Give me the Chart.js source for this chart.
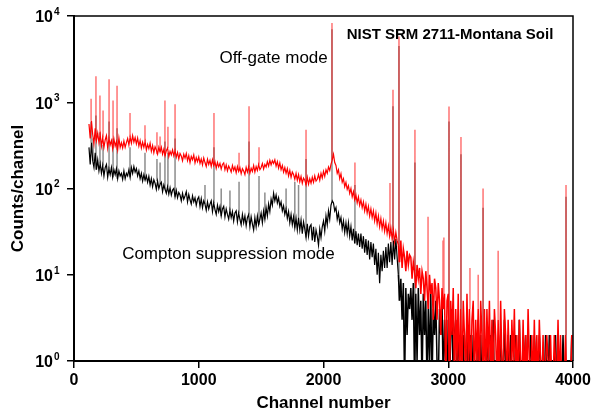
<!DOCTYPE html>
<html>
<head>
<meta charset="utf-8">
<script src="https://cdn.jsdelivr.net/npm/chart.js@4"></script>
<style>
  html, body { margin: 0; padding: 0; background: #fff; }
  #wrap { width: 595px; height: 414px; }
</style>
</head>
<body>
<div id="wrap"><canvas id="spectrum" width="595" height="414"></canvas></div>
<script>
// channel of the first value and spacing between values
const startChannel = 100;
const channelStep = 10;

// off-gate mode counts, one row per 100 channels (100, 200, ... 3900)
const offGate = [
  null, null, 560, 380, 610, 420, 330, 500, 360, 440,
  340, 420, 310, 390, 300, 365, 410, 295, 380, 320,
  360, 290, 375, 310, 350, 280, 385, 300, 340, 295,
  355, 300, 340, 380, 320, 395, 335, 410, 345, 390,
  330, 385, 310, 360, 295, 345, 300, 350, 280, 325,
  290, 335, 270, 315, 260, 305, 280, 250, 300, 265,
  300, 250, 285, 240, 275, 295, 235, 270, 245, 280,
  240, 275, 230, 262, 220, 255, 238, 210, 250, 225,
  255, 210, 240, 200, 235, 215, 245, 198, 228, 205,
  232, 195, 220, 188, 226, 200, 180, 218, 190, 212,
  180, 215, 185, 205, 172, 200, 178, 195, 168, 190,
  198, 165, 188, 160, 182, 170, 155, 185, 162, 178,
  152, 180, 158, 175, 148, 170, 160, 145, 176, 155,
  178, 150, 172, 158, 185, 155, 180, 162, 190, 165,
  175, 195, 168, 190, 178, 205, 182, 212, 188, 210,
  195, 215, 182, 205, 172, 198, 165, 185, 155, 175,
  150, 170, 140, 162, 135, 155, 145, 128, 150, 125,
  145, 120, 138, 115, 132, 125, 110, 135, 112, 130,
  115, 135, 118, 140, 122, 128, 145, 125, 150, 132,
  158, 138, 165, 150, 178, 162, 190, 215, 250, 200,
  185, 150, 165, 130, 148, 118, 130, 105, 118, 98,
  108, 88, 100, 80, 92, 74, 84, 68, 80, 64,
  74, 60, 70, 55, 66, 52, 62, 48, 58, 46,
  55, 42, 52, 39, 48, 36, 45, 34, 42, 32,
  40, 30, 37, 28, 35, 26, 33, 24, 31, 25,
  22, 14, 25, 12, 20, 16, 11, 19, 13, 17,
  16, 9, 14, 11, 7, 13, 9, 12, 6, 11,
  9, 5, 11, 7, 4, 10, 6, 8, 3, 9,
  7, 3, 8, 5, 2, 7, 4, 6, 0, 5,
  6, 0, 5, 2, 7, 0, 4, 1, 6, 0,
  4, 0, 5, 2, 0, 6, 1, 4, 0, 3,
  5, 0, 3, 1, 4, 0, 5, 2, 0, 4,
  0, 4, 1, 5, 0, 3, 0, 4, 2, 0,
  3, 0, 5, 1, 0, 4, 2, 0, 3, 1,
  0, 3, 1, 4, 0, 2, 0, 3, 1, 0,
  3, 0, 2, 0, 4, 1, 0, 2, 0, 3,
  0, 2, 0, 3, 1, 0, 2, 0, 1, 2,
  1, 0, 2, 0, 0, 2, 1, 0, 3, 0,
  2, 0, 1, 0, 2, 0, 0, 1, 0, 2
];

// Compton suppression mode counts, same channels
const compton = [
  null, null, 300, 190, 340, 210, 175, 260, 165, 215,
  160, 195, 150, 185, 140, 175, 190, 135, 170, 145,
  175, 135, 165, 145, 170, 130, 160, 140, 150, 128,
  160, 130, 150, 140, 165, 135, 175, 150, 180, 155,
  170, 140, 160, 130, 150, 122, 145, 125, 140, 118,
  138, 110, 130, 105, 126, 115, 98, 122, 100, 112,
  118, 92, 110, 98, 88, 105, 86, 102, 84, 96,
  100, 80, 95, 78, 90, 84, 72, 88, 75, 82,
  92, 70, 85, 74, 66, 82, 70, 78, 64, 75,
  80, 62, 76, 60, 72, 66, 56, 70, 58, 66,
  72, 54, 68, 57, 50, 64, 54, 62, 48, 58,
  62, 47, 58, 50, 44, 56, 46, 54, 42, 52,
  55, 41, 52, 44, 38, 50, 40, 48, 37, 46,
  50, 36, 47, 39, 33, 46, 36, 48, 38, 44,
  52, 40, 55, 44, 60, 48, 66, 54, 75, 64,
  88, 72, 84, 68, 78, 62, 70, 55, 63, 50,
  58, 45, 54, 40, 50, 38, 47, 35, 45, 33,
  46, 33, 43, 30, 41, 34, 27, 39, 28, 36,
  38, 25, 36, 24, 33, 28, 22, 34, 27, 36,
  42, 32, 48, 38, 55, 44, 64, 72, 68, 55,
  60, 44, 52, 40, 46, 34, 42, 31, 40, 30,
  40, 28, 36, 25, 34, 23, 32, 22, 30, 21,
  30, 20, 28, 18, 26, 17, 25, 15, 24, 16,
  23, 13, 20, 10, 18, 8, 17, 11, 19, 12,
  21, 12, 23, 14, 24, 13, 25, 15, 26, 16,
  10, 5, 9, 3, 8, 0, 7, 2, 6, 4,
  7, 3, 8, 0, 6, 1, 7, 2, 5, 0,
  6, 2, 5, 0, 4, 1, 6, 0, 4, 2,
  5, 1, 0, 4, 2, 5, 0, 3, 1, 0,
  3, 0, 2, 4, 0, 2, 3, 0, 2, 1,
  1, 0, 2, 0, 1, 3, 0, 1, 2, 0,
  2, 1, 0, 1, 3, 0, 2, 0, 1, 1,
  0, 2, 1, 0, 2, 1, 3, 0, 1, 0,
  1, 0, 2, 1, 0, 3, 1, 0, 2, 0,
  2, 0, 1, 0, 2, 1, 0, 3, 0, 1,
  0, 1, 2, 0, 1, 0, 2, 1, 0, 2,
  1, 0, 0, 2, 1, 0, 1, 0, 2, 0,
  0, 2, 1, 0, 0, 1, 2, 0, 1, 0,
  1, 0, 2, 0, 1, 0, 0, 1, 0, 2
];

// gamma lines (channel, peak top)
const offGatePeakChannels = [137, 176, 208, 233, 281, 313, 345, 449, 569, 665, 690, 729, 753, 810,
  1122, 1323, 1403, 1483, 1860, 2068, 2252, 2533, 2557, 2605, 2733, 2838, 2958, 2965, 3006, 3102,
  3174, 3240, 3279, 3400, 3944];
const offGatePeakTops = [1100, 2000, 1200, 800, 1850, 1050, 1550, 750, 540, 450, 400, 1050, 520, 950,
  750, 260, 900, 300, 480, 8300, 200, 116, 1400, 5800, 480, 47, 25, 27, 890, 395,
  12, 10, 100, 19, 110];
const comptonPeakChannels = [137, 153, 176, 208, 233, 281, 313, 345, 449, 569, 665, 690, 729, 753, 810,
  1050, 1122, 1180, 1250, 1323, 1403, 1483, 1530, 1700, 1770, 1800, 1860, 2068, 2252, 2557, 2605,
  2733, 3006, 3102, 3279, 3944];
const comptonPeakTops = [600, 380, 700, 450, 320, 600, 380, 500, 300, 260, 220, 200, 350, 260, 380,
  110, 300, 100, 95, 120, 350, 140, 90, 100, 120, 110, 220, 7000, 110, 900, 4500,
  200, 600, 250, 60, 80];

const xTicks = [0, 1000, 2000, 3000, 4000];
const yTicks = [1, 10, 100, 1000, 10000];
const yTickExponents = ["0", "1", "2", "3", "4"];

// a log axis cannot show 0 counts; put them just below the axis so the trace drops out of view
const belowAxis = (v) => (v === 0 ? 0.5 : v);

function toPoints(values) {
  return values
    .map((v, i) => ({ x: startChannel + i * channelStep, y: v === null ? null : belowAxis(v) }))
    .filter((p) => p.y !== null);
}

function peakPoints(series, channels, tops) {
  const pts = [];
  channels.forEach((ch, i) => {
    const base = belowAxis(series[Math.round((ch - startChannel) / channelStep)]);
    pts.push({ x: ch, y: base }, { x: ch, y: tops[i] }, { x: ch, y: null });
  });
  return pts;
}

// low-count tail looks like a solid band in the original, draw it a bit wider
const tailWidth = (ctx) => (ctx.p0.parsed.x >= 2600 ? 1.5 : 1.2);

const FONT = 'Arial, "Liberation Sans", sans-serif';

const decorations = {
  id: "decorations",
  afterDraw(chart) {
    const { ctx, chartArea } = chart;
    const xs = chart.scales.x;
    const ys = chart.scales.y;
    ctx.save();
    // frame top and right
    ctx.strokeStyle = "#000";
    ctx.lineWidth = 1.5;
    ctx.beginPath();
    ctx.moveTo(chartArea.left, chartArea.top);
    ctx.lineTo(chartArea.right, chartArea.top);
    ctx.lineTo(chartArea.right, chartArea.bottom);
    ctx.stroke();

    ctx.fillStyle = "#000";
    // x tick labels
    ctx.font = "bold 16px " + FONT;
    ctx.textAlign = "center";
    ctx.textBaseline = "middle";
    xTicks.forEach((v) => {
      ctx.fillText(String(v), xs.getPixelForValue(v), chartArea.bottom + 20);
    });
    // y tick labels as 10^n
    yTicks.forEach((v, i) => {
      const y = ys.getPixelForValue(v);
      ctx.font = "bold 16px " + FONT;
      ctx.textAlign = "right";
      ctx.textBaseline = "middle";
      ctx.fillText("10", 53, y + 2);
      ctx.font = "bold 10px " + FONT;
      ctx.textAlign = "left";
      ctx.fillText(yTickExponents[i], 54, y - 4);
    });
    // axis titles
    ctx.font = "bold 17px " + FONT;
    ctx.textAlign = "center";
    ctx.textBaseline = "middle";
    ctx.fillText("Channel number", (chartArea.left + chartArea.right) / 2, 403);
    ctx.save();
    ctx.translate(18, (chartArea.top + chartArea.bottom) / 2);
    ctx.rotate(-Math.PI / 2);
    ctx.fillText("Counts/channel", 0, 0);
    ctx.restore();

    // in-plot labels
    ctx.font = "bold 15px " + FONT;
    ctx.fillText("NIST SRM 2711-Montana Soil", xs.getPixelForValue(3014), ys.getPixelForValue(6000));
    ctx.font = "17px " + FONT;
    ctx.fillText("Off-gate mode", xs.getPixelForValue(1600), ys.getPixelForValue(3250));
    ctx.fillText("Compton suppression mode", xs.getPixelForValue(1238), ys.getPixelForValue(17.4));
    ctx.restore();
  },
};

new Chart(document.getElementById("spectrum"), {
  type: "scatter",
  data: {
    datasets: [
      {
        label: "Off-gate peaks",
        data: peakPoints(offGate, offGatePeakChannels, offGatePeakTops),
        showLine: true,
        spanGaps: false,
        borderColor: "rgba(255, 0, 0, 0.55)",
        borderWidth: 1.5,
        pointRadius: 0,
      },
      {
        label: "Off-gate mode",
        data: toPoints(offGate),
        showLine: true,
        borderColor: "#ff0000",
        borderWidth: 1.2,
        segment: { borderWidth: tailWidth },
        pointRadius: 0,
      },
      {
        label: "Compton peaks",
        data: peakPoints(compton, comptonPeakChannels, comptonPeakTops),
        showLine: true,
        spanGaps: false,
        borderColor: "rgba(0, 0, 0, 0.45)",
        borderWidth: 1.5,
        pointRadius: 0,
      },
      {
        label: "Compton suppression mode",
        data: toPoints(compton),
        showLine: true,
        borderColor: "#000000",
        borderWidth: 1.2,
        segment: { borderWidth: tailWidth },
        pointRadius: 0,
      },
    ],
  },
  options: {
    responsive: false,
    animation: false,
    devicePixelRatio: 1,
    layout: { padding: { top: 16, right: 22, left: 0, bottom: 0 } },
    plugins: { legend: { display: false }, tooltip: { enabled: false } },
    scales: {
      x: {
        type: "linear",
        min: 0,
        max: 4000,
        afterFit: (scale) => { scale.height = 53; },
        afterBuildTicks: (scale) => { scale.ticks = xTicks.map((v) => ({ value: v })); },
        ticks: { display: false },
        grid: { drawOnChartArea: false, drawTicks: true, tickLength: 7, color: "#000", lineWidth: 1.5 },
        border: { display: true, color: "#000", width: 2 },
      },
      y: {
        type: "logarithmic",
        min: 1,
        max: 10000,
        afterFit: (scale) => { scale.width = 74; },
        afterBuildTicks: (scale) => { scale.ticks = yTicks.map((v) => ({ value: v })); },
        ticks: { display: false },
        grid: { drawOnChartArea: false, drawTicks: true, tickLength: 7, color: "#000", lineWidth: 1.5 },
        border: { display: true, color: "#000", width: 2 },
      },
    },
  },
  plugins: [decorations],
});
</script>
</body>
</html>
